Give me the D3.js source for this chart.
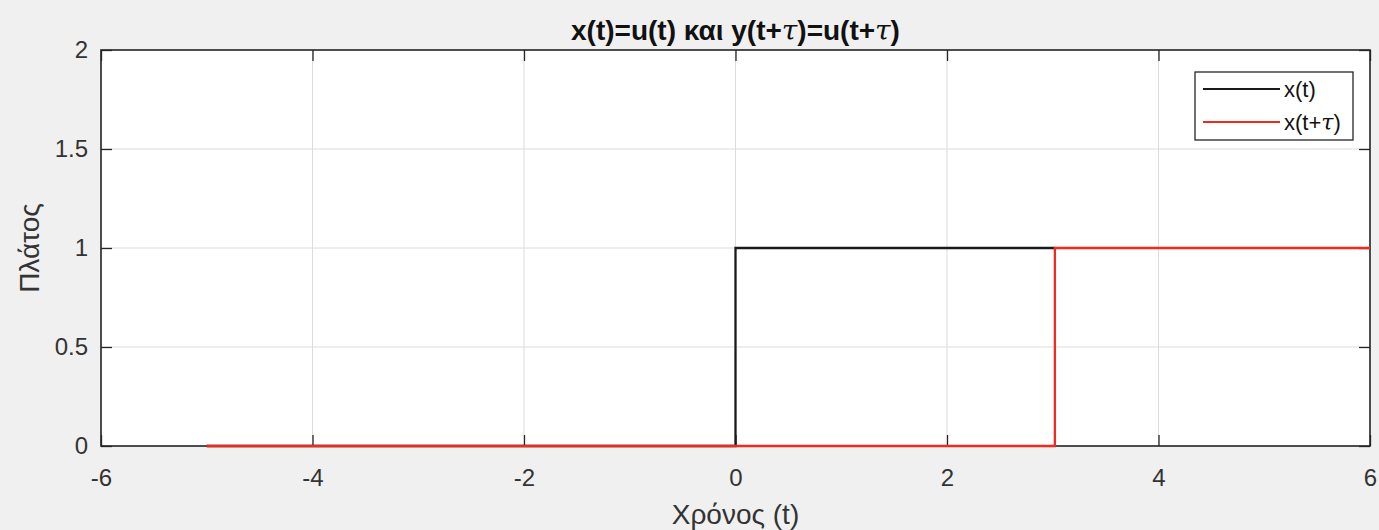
<!DOCTYPE html>
<html>
<head>
<meta charset="utf-8">
<script src="https://cdn.jsdelivr.net/npm/d3@7"></script>
<style>
  html, body { margin: 0; padding: 0; background: #f0f0f0; }
  svg { display: block; font-family: "Liberation Sans", Arial, sans-serif; }
</style>
</head>
<body>
<svg id="chart" width="1379" height="530"></svg>
<script>
// Step signals: x(t) = u(t) and the shifted copy x(t+τ)
const xT = [-5, 0, 0, 3.02];
const xY = [0, 0, 1, 1];
const shiftT = [-5, 3.02, 3.02, 6];
const shiftY = [0, 0, 1, 1];

const xTicks = [-6, -4, -2, 0, 2, 4, 6];
const yTicks = [0, 0.5, 1, 1.5, 2];
const seriesNames = ["x(t)", "x(t+τ)"];
const seriesColors = ["#1a1a1a", "#f2291c"];

const svg = d3.select("#chart");
const W = 1379, H = 530;
const m = { left: 101, right: 9, top: 50, bottom: 84 };
const pw = W - m.left - m.right, ph = H - m.top - m.bottom;

const x = d3.scaleLinear().domain([-6, 6]).range([m.left, m.left + pw]);
const y = d3.scaleLinear().domain([0, 2]).range([m.top + ph, m.top]);

// plot area
svg.append("rect").attr("x", m.left).attr("y", m.top).attr("width", pw).attr("height", ph).attr("fill", "#ffffff");

// grid
const grid = svg.append("g").attr("stroke", "#dcdcdc").attr("stroke-width", 1);
xTicks.forEach(t => grid.append("line").attr("x1", x(t)).attr("x2", x(t)).attr("y1", m.top).attr("y2", m.top + ph));
yTicks.forEach(t => grid.append("line").attr("y1", y(t)).attr("y2", y(t)).attr("x1", m.left).attr("x2", m.left + pw));

// signals
const line = d3.line().x(d => x(d[0])).y(d => y(d[1]));
const seriesData = [
  xT.map((t, i) => [t, xY[i]]),
  shiftT.map((t, i) => [t, shiftY[i]])
];

// axes (inward ticks on all sides, box)
const tickLen = 11;
const axColor = "#262626";
const tickFmt = d => String(d);
function styleAxis(g) {
  g.select(".domain").remove();
  g.selectAll(".tick line").attr("stroke", axColor).attr("stroke-width", 1.3);
  g.selectAll(".tick text").attr("fill", "#333").attr("font-size", 24);
}
const axBottom = svg.append("g").attr("transform", `translate(0,${m.top + ph})`)
  .call(d3.axisBottom(x).tickValues(xTicks).tickFormat(tickFmt).tickSizeInner(-tickLen).tickSizeOuter(0).tickPadding(23));
styleAxis(axBottom);
axBottom.selectAll(".tick text").attr("dy", "0.71em");
const axTop = svg.append("g").attr("transform", `translate(0,${m.top})`)
  .call(d3.axisTop(x).tickValues(xTicks).tickFormat("").tickSizeInner(-tickLen).tickSizeOuter(0));
styleAxis(axTop);
const axLeft = svg.append("g").attr("transform", `translate(${m.left},0)`)
  .call(d3.axisLeft(y).tickValues(yTicks).tickFormat(tickFmt).tickSizeInner(-tickLen).tickSizeOuter(0).tickPadding(13));
styleAxis(axLeft);
const axRight = svg.append("g").attr("transform", `translate(${m.left + pw},0)`)
  .call(d3.axisRight(y).tickValues(yTicks).tickFormat("").tickSizeInner(-tickLen).tickSizeOuter(0));
styleAxis(axRight);

svg.append("rect").attr("x", m.left).attr("y", m.top).attr("width", pw).attr("height", ph)
  .attr("fill", "none").attr("stroke", axColor).attr("stroke-width", 1.6);

seriesData.forEach((d, i) => {
  svg.append("path").datum(d).attr("d", line)
    .attr("fill", "none").attr("stroke", seriesColors[i]).attr("stroke-width", 2.3);
});

// title
const title = svg.append("text").attr("x", x(0)).attr("y", 40).attr("text-anchor", "middle")
  .attr("font-size", 28).attr("font-weight", "bold").attr("fill", "#111");
title.append("tspan").text("x(t)=u(t) και y(t+");
title.append("tspan").attr("font-style", "italic").attr("font-weight", "normal").attr("font-family", "'DejaVu Serif', serif").text("τ");
title.append("tspan").text(")=u(t+");
title.append("tspan").attr("font-style", "italic").attr("font-weight", "normal").attr("font-family", "'DejaVu Serif', serif").text("τ");
title.append("tspan").text(")");

// axis labels
svg.append("text").attr("x", x(0)).attr("y", 524).attr("text-anchor", "middle")
  .attr("font-size", 28).attr("fill", "#333").text("Χρόνος (t)");
svg.append("text").attr("transform", `translate(39,${y(1)}) rotate(-90)`).attr("text-anchor", "middle")
  .attr("font-size", 28).attr("fill", "#333").text("Πλάτος");

// legend
const lg = svg.append("g");
lg.append("rect").attr("x", 1195).attr("y", 72).attr("width", 158).attr("height", 68)
  .attr("fill", "#ffffff").attr("stroke", axColor).attr("stroke-width", 1.3);
seriesNames.forEach((name, i) => {
  const ly = 89 + i * 33;
  lg.append("line").attr("x1", 1203).attr("x2", 1280).attr("y1", ly).attr("y2", ly)
    .attr("stroke", seriesColors[i]).attr("stroke-width", 1.8);
  const t = lg.append("text").attr("x", 1284).attr("y", ly + 8).attr("font-size", 22).attr("fill", "#111");
  if (i === 0) {
    t.text(name);
  } else {
    t.append("tspan").text("x(t+");
    t.append("tspan").attr("font-style", "italic").attr("font-family", "'DejaVu Serif', serif").text("τ");
    t.append("tspan").text(")");
  }
});
</script>
</body>
</html>
